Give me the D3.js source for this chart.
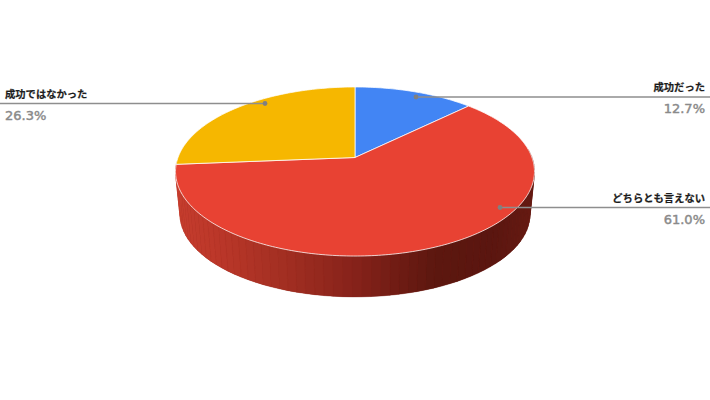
<!DOCTYPE html>
<html lang="ja">
<head>
<meta charset="utf-8">
<script src="https://cdn.jsdelivr.net/npm/d3@7"></script>
<style>html,body{margin:0;padding:0;background:#fff}svg{display:block}</style>
</head>
<body>
<div id="chart"></div>
<script>
// Data
const categories = ["成功だった", "どちらとも言えない", "成功ではなかった"];
const values = [12.7, 61.0, 26.3];
const valueLabels = ["12.7%", "61.0%", "26.3%"];
const colors = ["#4285f4", "#e84233", "#f6b700"];

// Layout
const W = 710, H = 400;
const cx = 355, cy = 157.5, Rx = 177, Ry = 82.2, k = 0.1657;
const extrudeScale = 0.975, extrudeDrop = 43, ellipseCy = 171.5;
// Leader end points inside the pie, label sides and line heights
const leaderEnd = [[416, 97], [500, 207.5], [265, 103.5]];
const leaderSide = ["right", "right", "left"];
const sideStops = [0, 0.12, 0.3, 0.5, 0.72, 0.88, 1];
const sideColors = ["#c63d2e", "#bb3729", "#a32f22", "#86221a", "#5c170f", "#5a1610", "#651a12"];

const svg = d3.select("#chart").append("svg").attr("width", W).attr("height", H);

function proj(theta, r = 1) {
  const u = Math.sin(theta) * r, v = Math.cos(theta) * r, w = 1 + k * v;
  return [cx + Rx * u / w, cy - Ry * v / w];
}
function projLow(theta) {
  const [x, y] = proj(theta);
  return [cx + (x - cx) * extrudeScale, ellipseCy + extrudeDrop + (y - ellipseCy) * extrudeScale];
}

const arcs = d3.pie().sort(null).value(d => d)(values);
const line = d3.line();

// Side wall: thin facets, shaded across the width of the pie
const shade = d3.scaleLinear().domain(sideStops).range(sideColors).interpolate(d3.interpolateRgb);
const tLeft = 4.66, tRight = 1.47;        // visible wall, clockwise from right to left
const nFacets = 70;
const facetAngles = d3.range(nFacets + 1).map(i => tRight + (tLeft - tRight) * i / nFacets);
const facets = svg.append("g");
// full silhouette underneath, so facets have no gaps
facets.append("path")
  .attr("fill", "#86221a")
  .attr("d", line(facetAngles.map(t => proj(t)).concat(facetAngles.slice().reverse().map(t => projLow(t)))) + "Z");
d3.pairs(facetAngles).forEach(([a, b]) => {
  const pts = [proj(a), proj(b), projLow(b), projLow(a)];
  const mid = (projLow(a)[0] + projLow(b)[0]) / 2;
  const c = shade((mid - (cx - Rx)) / (2 * Rx));
  facets.append("path").attr("d", line(pts) + "Z").attr("fill", c).attr("stroke", c).attr("stroke-width", 0.4);
});

// Top face
svg.append("g").selectAll("path").data(arcs).join("path")
  .attr("fill", (d, i) => colors[i])
  .attr("stroke", "#fff")
  .attr("stroke-opacity", 0.75)
  .attr("stroke-width", 1)
  .attr("stroke-linejoin", "round")
  .attr("d", d => {
    const n = Math.max(8, Math.ceil((d.endAngle - d.startAngle) * 60));
    const rim = d3.range(n + 1).map(i => proj(d.startAngle + (d.endAngle - d.startAngle) * i / n));
    return line([[cx, cy], ...rim]) + "Z";
  });

// Leaders and labels
const labels = svg.append("g");
categories.forEach((name, i) => {
  const [ax, ay] = leaderEnd[i];
  const right = leaderSide[i] === "right";
  const edge = right ? W : 0;
  labels.append("line").attr("x1", ax).attr("y1", ay).attr("x2", edge).attr("y2", ay)
    .attr("stroke", "#8e8e8e").attr("stroke-width", 1.3);
  labels.append("circle").attr("cx", ax).attr("cy", ay).attr("r", 2.4).attr("fill", "#808080");
  const tx = right ? W - 5 : 5;
  const anchor = right ? "end" : "start";
  labels.append("text").attr("x", tx).attr("y", ay - 6)
    .attr("text-anchor", anchor)
    .attr("font-family", "'Noto Sans CJK JP'")
    .attr("font-weight", 700).attr("font-size", 10.3).attr("fill", "#1c1c1c")
    .attr("stroke", "#1c1c1c").attr("stroke-width", 0.2)
    .text(name);
  labels.append("text").attr("x", tx).attr("y", ay + 16)
    .attr("text-anchor", anchor)
    .attr("font-family", "'DejaVu Sans'")
    .attr("font-size", 13).attr("fill", "#8a8a8a")
    .attr("stroke", "#8a8a8a").attr("stroke-width", 0.45)
    .text(valueLabels[i]);
});
</script>
</body>
</html>
